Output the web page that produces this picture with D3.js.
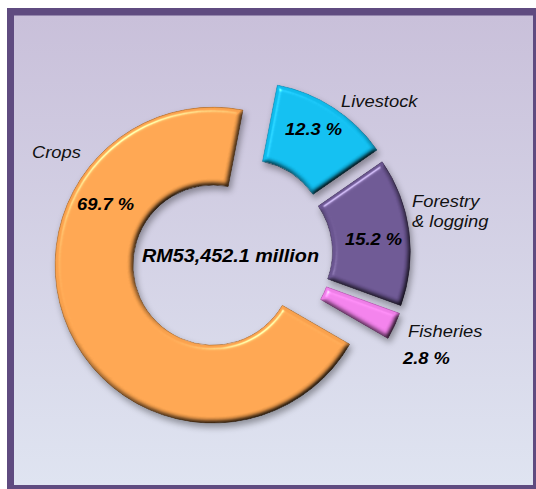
<!DOCTYPE html>
<html>
<head>
<meta charset="utf-8">
<script src="https://cdn.jsdelivr.net/npm/d3@7"></script>
<style>
  body { margin: 0; background: #fff; }
  svg { display: block; }
  text { font-family: "Liberation Sans", Arial, sans-serif; font-style: italic; }
</style>
</head>
<body>
<svg id="chart" width="536" height="489"></svg>
<script>
// data (clockwise order, starting just right of 12 o'clock)
const categories = ['Livestock', 'Forestry\n& logging', 'Fisheries', 'Crops']
const shares = [12.3, 15.2, 2.8, 69.7]
const shareLabels = ['12.3 %', '15.2 %', '2.8 %', '69.7 %']
const totalLabel = 'RM53,452.1 million'

const colors = ['#0fbbec', '#6a5590', '#ee7ee7', '#f9a24e']
const edgeColors = ['#0a8ab4', '#463660', '#b24dac', '#b06a25']
const explode = [16, 14, 14, 28]

// label placement (left x, baseline y)
const nameLayout = [[341, 107], [412, 207], [408, 337], [32, 158]]
const shareLayout = [[285, 135], [345, 245], [403, 364], [77, 210]]

const svg = d3.select('#chart')
const defs = svg.append('defs')

// background gradient
const bg = defs.append('linearGradient').attr('id', 'bg').attr('x1', 0).attr('y1', 0).attr('x2', 0).attr('y2', 1)
bg.append('stop').attr('offset', '0%').attr('stop-color', '#c9c0da')
bg.append('stop').attr('offset', '100%').attr('stop-color', '#dfe4f1')

// bevel + shadow filter
const f = defs.append('filter').attr('id', 'bevel')
    .attr('color-interpolation-filters', 'sRGB')
    .attr('x', '-20%').attr('y', '-20%').attr('width', '140%').attr('height', '140%')
f.append('feGaussianBlur').attr('in', 'SourceAlpha').attr('stdDeviation', 2.5).attr('result', 'blur')
f.append('feDiffuseLighting').attr('in', 'blur').attr('surfaceScale', 3)
    .attr('diffuseConstant', 1.31).attr('lighting-color', '#fff').attr('result', 'diff')
    .append('feDistantLight').attr('azimuth', 235).attr('elevation', 50)
f.append('feComposite').attr('in', 'SourceGraphic').attr('in2', 'diff')
    .attr('operator', 'arithmetic').attr('k1', 1).attr('k2', 0).attr('k3', 0).attr('k4', 0).attr('result', 'shaded')
f.append('feSpecularLighting').attr('in', 'blur').attr('surfaceScale', 3)
    .attr('specularConstant', 0.8).attr('specularExponent', 60).attr('lighting-color', '#fff').attr('result', 'spec')
    .append('feDistantLight').attr('azimuth', 235).attr('elevation', 55)
f.append('feComposite').attr('in', 'spec').attr('in2', 'SourceAlpha').attr('operator', 'in').attr('result', 'specIn')
f.append('feComposite').attr('in', 'shaded').attr('in2', 'specIn')
    .attr('operator', 'arithmetic').attr('k1', 0).attr('k2', 1).attr('k3', 0.5).attr('k4', 0).attr('result', 'lit')
f.append('feComposite').attr('in', 'lit').attr('in2', 'SourceAlpha').attr('operator', 'in').attr('result', 'litIn')
f.append('feGaussianBlur').attr('in', 'SourceAlpha').attr('stdDeviation', 3).attr('result', 'sb')
f.append('feOffset').attr('in', 'sb').attr('dx', 2).attr('dy', 4).attr('result', 'so')
f.append('feFlood').attr('flood-color', '#000').attr('flood-opacity', 0.35)
f.append('feComposite').attr('in2', 'so').attr('operator', 'in').attr('result', 'shadow')
const merge = f.append('feMerge')
merge.append('feMergeNode').attr('in', 'shadow')
merge.append('feMergeNode').attr('in', 'litIn')

// frame
svg.append('rect').attr('x', 7).attr('y', 8).attr('width', 533).attr('height', 485).attr('fill', '#5f4b80')
svg.append('rect').attr('x', 14).attr('y', 15.5).attr('width', 519).attr('height', 469.5).attr('fill', 'url(#bg)')

// donut
const cx = 238.5, cy = 253.5
const outerR = 158, innerR = 80
const a0 = 10.96 * Math.PI / 180

const pie = d3.pie().sort(null).startAngle(a0).endAngle(a0 + 2 * Math.PI)
const arc = d3.arc().innerRadius(innerR).outerRadius(outerR)
const slices = pie(shares)

const g = svg.append('g').attr('transform', `translate(${cx},${cy})`)

g.selectAll('path').data(slices).join('path')
    .attr('transform', (d, i) => {
        let mid = (d.startAngle + d.endAngle) / 2
        return `translate(${explode[i] * Math.sin(mid)},${-explode[i] * Math.cos(mid)})`
    })
    .attr('d', arc)
    .attr('fill', (d, i) => colors[i])
    .attr('stroke', (d, i) => edgeColors[i])
    .attr('stroke-width', 0.8)
    .attr('filter', 'url(#bevel)')

// labels
const sx = 1.08
categories.forEach((name, i) => {
    let t = svg.append('text')
        .attr('transform', `translate(${nameLayout[i][0]},${nameLayout[i][1]}) scale(${sx},1)`)
        .attr('font-size', 17).attr('fill', '#111')
    name.split('\n').forEach((line, j) => {
        t.append('tspan').attr('x', 0).attr('y', j * 20).text(line)
    })
    svg.append('text')
        .attr('transform', `translate(${shareLayout[i][0]},${shareLayout[i][1]}) scale(${sx},1)`)
        .attr('font-size', 17).attr('font-weight', 'bold').attr('fill', '#000')
        .text(shareLabels[i])
})

svg.append('text')
    .attr('transform', `translate(142,262) scale(1.1,1)`)
    .attr('font-size', 18).attr('font-weight', 'bold').attr('fill', '#000')
    .text(totalLabel)
</script>
</body>
</html>
